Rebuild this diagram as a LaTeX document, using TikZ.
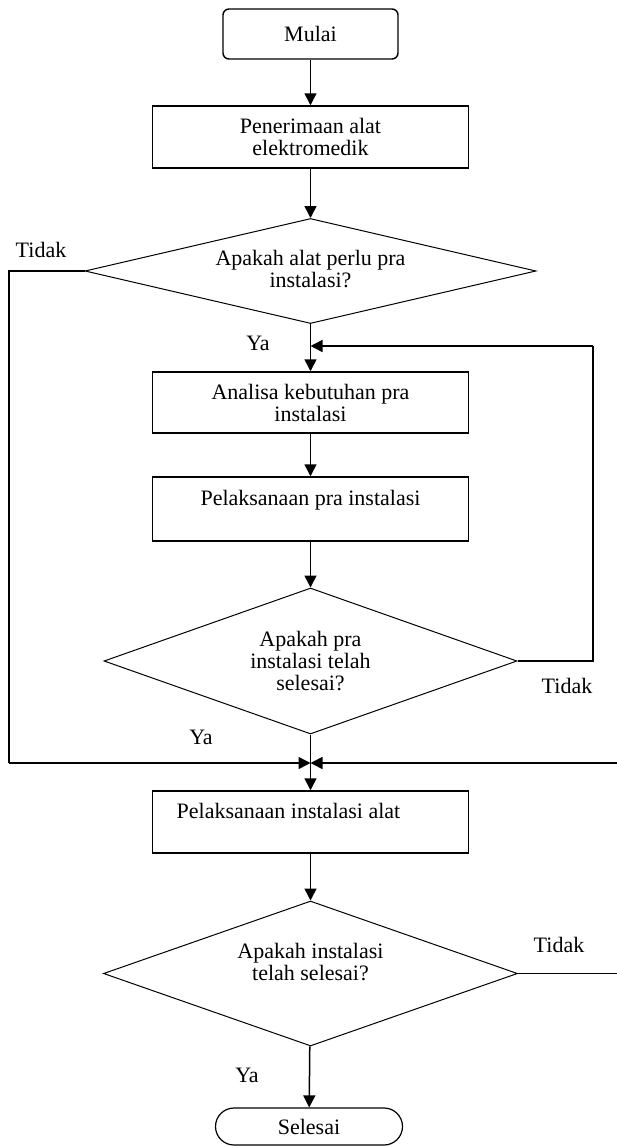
\documentclass[tikz,border=0pt]{standalone}
\usepackage{fontspec}
\setmainfont{Liberation Serif}
\usetikzlibrary{shapes.geometric,shapes.misc,arrows.meta}
\begin{document}
\begin{tikzpicture}[x=1pt,y=-1pt,
  every node/.style={font=\fontsize{22}{22}\selectfont, text=black},
  termbox/.style={draw, line width=1.4pt, rounded corners=6pt, minimum width=175pt, minimum height=50pt, inner sep=0pt},
  endbox/.style={draw, line width=1.2pt, rounded rectangle, minimum width=187pt, minimum height=37pt, inner sep=0pt},
  procbox/.style={draw, line width=1.5pt, rectangle, minimum width=316pt, inner sep=0pt, align=center},
  decbox/.style={draw, line width=1pt, diamond, inner sep=0pt},
  dectext/.style={align=center, inner sep=0pt},
  lbl/.style={inner sep=0pt},
  flow/.style={line width=1.5pt, -{Triangle[length=12pt,width=12pt]}},
  line/.style={line width=1.5pt}
]
\useasboundingbox (0,0) rectangle (616,1146);

% nodes
\node[termbox] (mulai) at (310.5,34) {Mulai};
\node[procbox, minimum height=62pt] (terima) at (310.5,137) {Penerimaan alat\\elektromedik};
\node[decbox, minimum width=451pt, minimum height=105pt] (d1) at (310.5,271) {};
\node[dectext] (d1t) at (310.5,269) {Apakah alat perlu pra\\instalasi?};
\node[procbox, minimum height=61pt] (analisa) at (310.5,402.5) {Analisa kebutuhan pra\\instalasi};
\node[procbox, minimum height=64pt] (prains) at (310.5,509) {Pelaksanaan pra instalasi\\\mbox{}};
\node[decbox, minimum width=413pt, minimum height=146pt] (d2) at (310.5,661) {};
\node[dectext] (d2t) at (310.5,661) {Apakah pra\\instalasi telah\\selesai?};
\node[procbox, minimum height=62pt] (instal) at (310.5,822) {Pelaksanaan instalasi alat\hspace*{44pt}\\\mbox{}};
\node[decbox, minimum width=414pt, minimum height=145pt] (d3) at (310.5,973.5) {};
\node[dectext] (d3t) at (310.5,962) {Apakah instalasi\\telah selesai?};
\node[endbox] (selesai) at (309,1126.5) {Selesai};

% labels
\node[lbl] (t1) at (41,250) {Tidak};
\node[lbl] (y1) at (258,343) {Ya};
\node[lbl] (t2) at (567,686) {Tidak};
\node[lbl] (y2) at (201,737) {Ya};
\node[lbl] (t3) at (559,945) {Tidak};
\node[lbl] (y3) at (247,1075) {Ya};

% junctions
\coordinate (j1) at (310.5,346);
\coordinate (j2) at (310.5,763);
\coordinate (lc) at (9,763);
\coordinate (rl) at (593,346);
\coordinate (rc) at (624,763);

% connectors
\draw[flow] (mulai) -- (terima);
\draw[flow] (terima) -- (d1);
\draw[flow] (d1) -- (analisa);
\draw[flow] (analisa) -- (prains);
\draw[flow] (prains) -- (d2);
\draw[flow] (d2) -- (instal);
\draw[flow] (instal) -- (d3);
\draw[flow] (d3) -- (selesai);
\draw[line] (d2.east) -| (rl);
\draw[flow] (rl) -- (j1);
\draw[line] (d1.west) -| (lc);
\draw[flow] (lc) -- (j2);
\draw[line] (d3.east) -| (rc);
\draw[flow] (rc) -- (j2);
\end{tikzpicture}
\end{document}
